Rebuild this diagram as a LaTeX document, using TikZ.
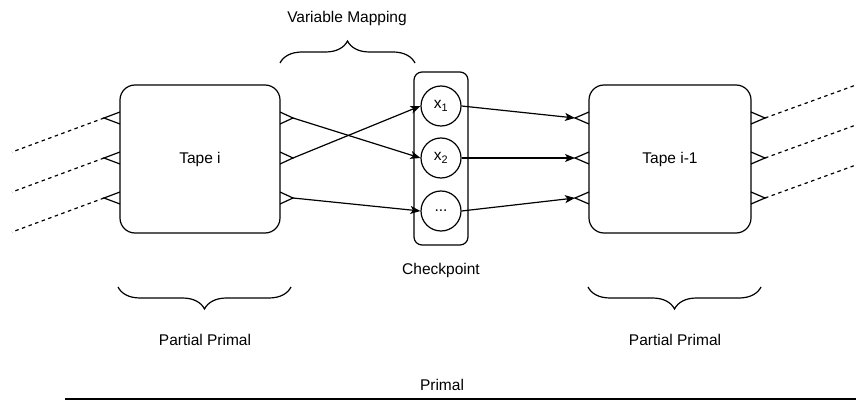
\documentclass[tikz,border=0pt]{standalone}
\usepackage{fontspec}
\setmainfont{Liberation Sans}
\usepackage{tikz}
\usetikzlibrary{arrows.meta}
\usetikzlibrary{decorations.pathreplacing}
\usetikzlibrary{positioning}

\tikzset{
  tape/.style={draw, line width=1.2pt, rounded corners=15pt, fill=white},
  var/.style={draw, circle, line width=1.2pt, minimum size=40pt, inner sep=0pt, fill=white},
  arr/.style={line width=1.2pt, -{Stealth[length=10pt, width=8pt, inset=2.5pt]}},
  crow/.style={line width=1.2pt},
  wire/.style={line width=1.2pt, dash pattern=on 3.5pt off 3.5pt},
  brc/.style={line width=1.2pt, decorate, decoration={brace, amplitude=22pt}},
}

\begin{document}
\begin{tikzpicture}[x=1pt, y=-1pt, font=\fontsize{15.5}{18}\selectfont]
    \useasboundingbox (0, 0) rectangle (856, 403);
    % tapes
    \node[tape, minimum width=160pt, minimum height=148pt] at (200, 159) (tapeA) {Tape i};
    \node[tape, minimum width=162pt, minimum height=148pt] at (670, 159) (tapeB) {Tape i-1};
    % checkpoint
    \node[draw, line width=1.2pt, rounded corners=8pt, minimum width=54pt, minimum height=173pt] at (441, 158.5) (ckpt) {};
    \node[var] at (441, 106) (x1) {x\textsubscript{1}};
    \node[var] at (441, 158) (x2) {x\textsubscript{2}};
    \node[var] at (441, 211) (xn) {...};
    \node at (441, 270) (ckptlbl) {Checkpoint};
    % crow feet and tape wires
    \foreach \y [count=\i] in {118, 158, 198} {
      \coordinate (inA\i) at (104, \y);
      \coordinate (outA\i) at (293, \y);
      \coordinate (inB\i) at (575, \y);
      \coordinate (outB\i) at (765, \y);
      \coordinate (farA\i) at (12, \y+34);
      \coordinate (farB\i) at (856, \y-33);
      \draw[crow] (120, \y-6) -- (inA\i) -- (120, \y+6);
      \draw[crow] (280, \y-6) -- (outA\i) -- (280, \y+6);
      \draw[crow] (589, \y-6) -- (inB\i) -- (589, \y+6);
      \draw[crow] (751, \y-6) -- (outB\i) -- (751, \y+6);
      \draw[wire] (inA\i) -- (farA\i);
      \draw[wire] (outB\i) -- (farB\i);
    }
    % variable mapping
    \draw[arr] (outA1) -- (x2.west);
    \draw[arr] (outA2) -- (x1.west);
    \draw[arr] (outA3) -- (xn.west);
    \draw[arr] (x1.east) -- (inB1);
    \draw[arr] (x2.east) -- (inB2);
    \draw[arr] (xn.east) -- (inB3);
    % braces
    \draw[brc] (280, 63) -- (415, 63);
    \node at (347, 18) (maplbl) {Variable Mapping};
    \draw[brc] (291, 287) -- (118, 287);
    \node at (205, 340) (partA) {Partial Primal};
    \draw[brc] (761, 287) -- (588, 287);
    \node at (675, 340) (partB) {Partial Primal};
    % primal
    \coordinate (primS) at (65, 399);
    \coordinate (primE) at (856, 399);
    \draw[line width=1.5pt] (primS) -- (primE);
    \node at (442, 385) (primlbl) {Primal};
\end{tikzpicture}
\end{document}
